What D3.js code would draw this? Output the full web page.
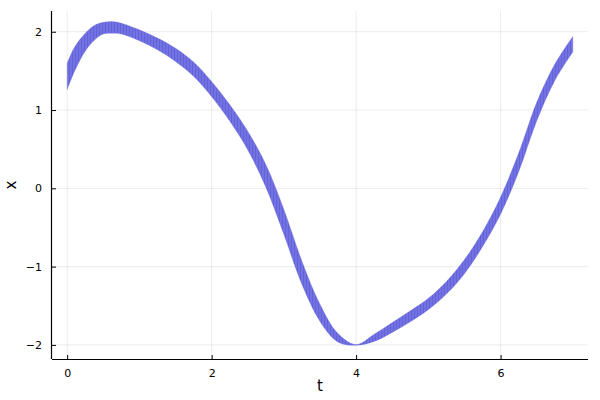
<!DOCTYPE html>
<html>
<head>
<meta charset="utf-8">
<script src="https://cdn.jsdelivr.net/npm/d3@7"></script>
<style>
  html, body { margin: 0; padding: 0; background: #fff; }
  svg { display: block; font-family: "DejaVu Sans", sans-serif; }
</style>
</head>
<body>
<svg id="chart" width="600" height="400"></svg>
<script>
// ---- data ----
const tValues = [0, 0.1, 0.25, 0.375, 0.5, 0.625, 0.75, 1.0, 1.25, 1.5, 1.75, 2.0, 2.25, 2.5, 2.75, 3.0, 3.25, 3.5, 3.75, 4.0,
                 4.25, 4.5, 4.75, 5.0, 5.25, 5.5, 5.75, 6.0, 6.25, 6.5, 6.75, 7.0];
const lowerValues = [1.26, 1.49, 1.75, 1.89, 1.97, 1.98, 1.97, 1.885, 1.77, 1.62, 1.43, 1.17, 0.86, 0.49, 0.015, -0.59, -1.23, -1.70, -1.965, -2.005,
                     -1.955, -1.84, -1.705, -1.55, -1.35, -1.09, -0.745, -0.33, 0.21, 0.86, 1.375, 1.74];
const upperValues = [1.60, 1.80, 1.98, 2.08, 2.12, 2.13, 2.11, 2.025, 1.92, 1.79, 1.615, 1.365, 1.07, 0.73, 0.305, -0.27, -0.93, -1.48, -1.855, -1.995,
                     -1.865, -1.715, -1.565, -1.405, -1.19, -0.91, -0.555, -0.11, 0.45, 1.10, 1.585, 1.94];
const xTicks = [0, 2, 4, 6];
const yTicks = [-2, -1, 0, 1, 2];
const xLabel = "t";
const yLabel = "x";

// ---- layout ----
const mLeft = 52, mRight = 588, mTop = 11, mBottom = 359;
const svg = d3.select("#chart");

const x = d3.scaleLinear().domain([-0.21, 7.21]).range([mLeft, mRight]);
const y = d3.scaleLinear().domain([-2.18, 2.265]).range([mBottom, mTop]);

const data = tValues.map((t, i) => ({ t, lo: lowerValues[i], hi: upperValues[i] }));

// grid
const grid = svg.append("g");
grid.selectAll(".gx").data(xTicks).enter().append("line")
  .attr("x1", d => x(d)).attr("x2", d => x(d))
  .attr("y1", mTop).attr("y2", mBottom)
  .attr("stroke", "#000").attr("stroke-opacity", 0.08).attr("stroke-width", 1);
grid.selectAll(".gy").data(yTicks).enter().append("line")
  .attr("x1", mLeft).attr("x2", mRight)
  .attr("y1", d => y(d)).attr("y2", d => y(d))
  .attr("stroke", "#000").attr("stroke-opacity", 0.08).attr("stroke-width", 1);

// streak pattern
const defs = svg.append("defs");
const pat = defs.append("pattern").attr("id", "streaks")
  .attr("patternUnits", "userSpaceOnUse").attr("width", 3).attr("height", 10);
pat.append("rect").attr("width", 3).attr("height", 10).attr("fill", "#7272e4");
pat.append("rect").attr("x", 0).attr("width", 0.7).attr("height", 10).attr("fill", "#5c5cd0");

// ribbon
const area = d3.area()
  .x(d => x(d.t))
  .y0(d => y(d.lo))
  .y1(d => y(d.hi))
  .curve(d3.curveCatmullRom.alpha(0.5));
svg.append("path").datum(data)
  .attr("d", area)
  .attr("fill", "url(#streaks)")
  .attr("stroke", "#6a6adc").attr("stroke-width", 0.5).attr("stroke-opacity", 0.6);

// axes
const fmt = d => String(d).replace("-", "\u2212");
const xAxis = d3.axisBottom(x).tickValues(xTicks).tickSize(-4).tickPadding(10).tickFormat(fmt);
const gx = svg.append("g").attr("transform", `translate(0,${mBottom})`).call(xAxis);
gx.select(".domain").attr("d", `M${mLeft},0.5H${mRight}`).attr("stroke", "#000").attr("stroke-width", 1.2);
gx.selectAll(".tick line").attr("stroke", "#000");
gx.selectAll(".tick text").attr("font-size", 11).attr("fill", "#000")
  .attr("font-family", "DejaVu Sans, sans-serif");

const yAxis = d3.axisLeft(y).tickValues(yTicks).tickSize(-4).tickPadding(10).tickFormat(fmt);
const gy = svg.append("g").attr("transform", `translate(${mLeft},0)`).call(yAxis);
gy.select(".domain").attr("d", `M-0.5,${mTop}V${mBottom}`).attr("stroke", "#000").attr("stroke-width", 1.2);
gy.selectAll(".tick line").attr("stroke", "#000");
gy.selectAll(".tick text").attr("font-size", 11).attr("fill", "#000")
  .attr("font-family", "DejaVu Sans, sans-serif");

// axis labels
svg.append("text").attr("x", (mLeft + mRight) / 2).attr("y", 391)
  .attr("text-anchor", "middle").attr("font-size", 15).attr("fill", "#000").text(xLabel);
svg.append("text")
  .attr("transform", `translate(16,${(mTop + mBottom) / 2}) rotate(-90)`)
  .attr("text-anchor", "middle").attr("font-size", 15).attr("fill", "#000").text(yLabel);
</script>
</body>
</html>
